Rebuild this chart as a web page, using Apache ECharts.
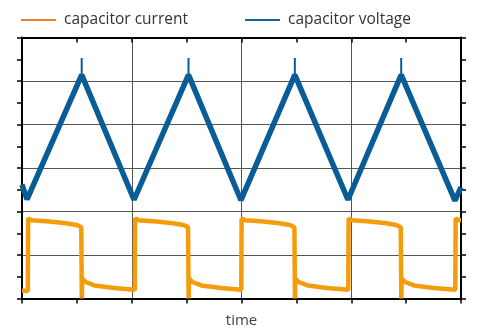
<!DOCTYPE html>
<html><head><meta charset="utf-8">
<script src="https://cdn.jsdelivr.net/npm/echarts@6/dist/echarts.min.js"></script>
<style>html,body{margin:0;padding:0;background:#fff}#c{width:477px;height:330px}</style>
</head><body><div id="c"></div>
<script>
const seriesNames = ['capacitor current', 'capacitor voltage'];
const xAxisName = 'time';

const currentTime = [0, 0.053, 0.056, 0.09, 0.25, 0.40, 0.50, 0.540, 0.545, 0.549, 0.58, 0.66, 0.84, 1.028,
  1.031, 1.065, 1.225, 1.375, 1.47, 1.513, 1.518, 1.522, 1.553, 1.633, 1.813, 1.998,
  2.001, 2.035, 2.195, 2.345, 2.44, 2.482, 2.487, 2.491, 2.522, 2.602, 2.782, 2.973,
  2.976, 3.010, 3.170, 3.320, 3.41, 3.451, 3.456, 3.460, 3.491, 3.571, 3.751, 3.948,
  3.951, 3.985, 4.0];
const currentValue = [0.18, 0.18, 1.84, 1.80, 1.77, 1.73, 1.69, 1.64, 0.0, 0.46, 0.38, 0.30, 0.24, 0.20,
  1.84, 1.80, 1.77, 1.73, 1.69, 1.64, 0.0, 0.46, 0.38, 0.30, 0.24, 0.20,
  1.84, 1.80, 1.77, 1.73, 1.69, 1.64, 0.0, 0.46, 0.38, 0.30, 0.24, 0.20,
  1.84, 1.80, 1.77, 1.73, 1.69, 1.64, 0.0, 0.46, 0.38, 0.30, 0.24, 0.20,
  1.84, 1.80, 1.80];

const voltageTime = [0, 0.046, 0.544, 1.021, 1.517, 1.995, 2.486, 2.970, 3.455, 3.945, 4.0];
const voltageValue = [2.62, 2.28, 5.14, 2.27, 5.14, 2.26, 5.14, 2.27, 5.14, 2.25, 2.56];

// thin switching spikes at the voltage peaks
const spikeTime = [0.544, 0.544, 0.544, 1.517, 1.517, 1.517, 2.486, 2.486, 2.486, 3.455, 3.455, 3.455];
const spikeValue = [5.1, 5.53, '-', 5.1, 5.53, '-', 5.1, 5.53, '-', 5.1, 5.53, '-'];

const currentData = currentTime.map((t, i) => [t, currentValue[i]]);
const voltageData = voltageTime.map((t, i) => [t, voltageValue[i]]);
const spikeData = spikeTime.map((t, i) => [t, spikeValue[i]]);

const font = 'Open Sans';
const axisBase = (pos, inside) => ({
  type: 'value', min: 0, position: pos,
  axisLine: { show: true, onZero: false, lineStyle: { color: '#000', width: 2 } },
  axisTick: { show: true, inside: inside, length: 5, lineStyle: { color: '#000', width: 1.5 } },
  minorTick: { show: true, splitNumber: 2, length: 5, lineStyle: { color: '#000', width: 1.5 } },
  axisLabel: { show: false },
  splitLine: { show: false }
});

const chart = echarts.init(document.getElementById('c'));
chart.setOption({
  animation: false,
  grid: { left: 22, right: 16, top: 37.5, bottom: 31.5, containLabel: false, outerBoundsMode: 'none' },
  legend: {
    left: 21, top: 12, padding: 0, itemWidth: 35, itemHeight: 2, itemGap: 57, icon: 'rect',
    textStyle: { fontFamily: font, fontSize: 15.5, color: '#333', padding: [0, 0, 0, 3] },
    data: [
      { name: seriesNames[0], itemStyle: { color: '#f27d1c' } },
      { name: seriesNames[1], itemStyle: { color: '#1466a3' } }
    ]
  },
  xAxis: [
    Object.assign(axisBase('bottom', false), {
      max: 4, interval: 1,
      splitLine: { show: true, lineStyle: { color: '#555', width: 1 } },
      name: xAxisName, nameLocation: 'middle', nameGap: 15,
      nameTextStyle: { fontFamily: font, fontSize: 15, color: '#444' }
    }),
    Object.assign(axisBase('top', true), { max: 4, interval: 1 })
  ],
  yAxis: [
    Object.assign(axisBase('left', false), {
      max: 6, interval: 1,
      splitLine: { show: true, lineStyle: { color: '#555', width: 1 } }
    }),
    Object.assign(axisBase('right', false), { max: 6, interval: 1 })
  ],
  series: [
    { name: seriesNames[0], type: 'line', data: currentData, symbol: 'none',
      lineStyle: { color: '#f59c0c', width: 4.5 }, itemStyle: { color: '#f59c0c' } },
    { name: seriesNames[1], type: 'line', data: voltageData, symbol: 'none',
      lineStyle: { color: '#0a5c97', width: 5.5 }, itemStyle: { color: '#0a5c97' } },
    { name: 'spike', type: 'line', data: spikeData, symbol: 'none', connectNulls: false,
      lineStyle: { color: '#0a5c97', width: 2 }, itemStyle: { color: '#0a5c97' } }
  ]
});
</script></body></html>
